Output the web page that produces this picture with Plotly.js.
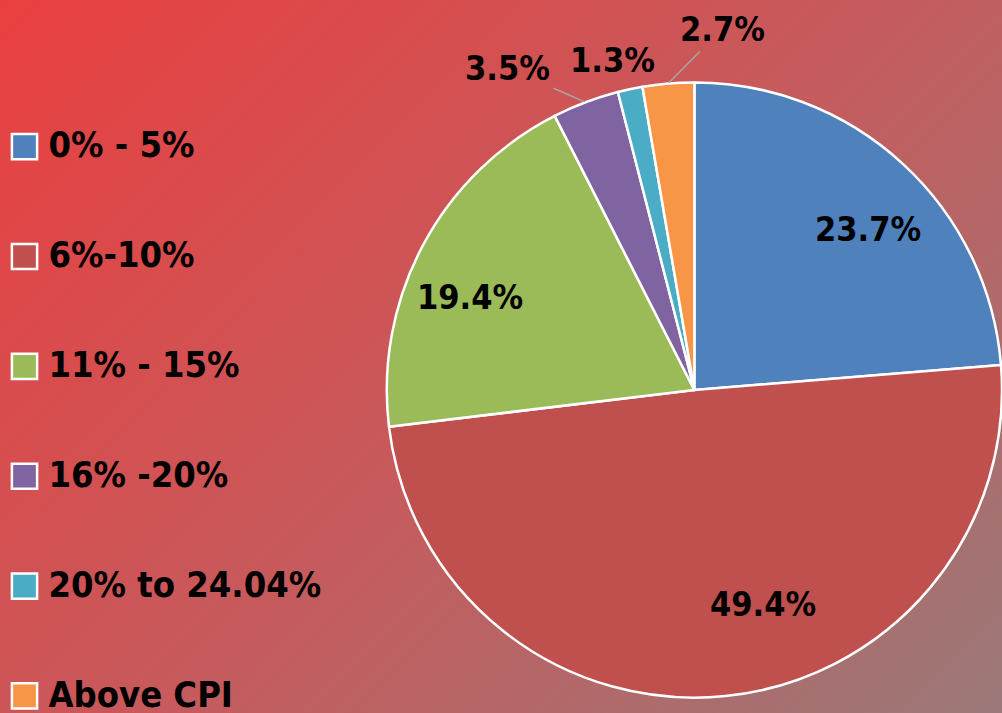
<!DOCTYPE html>
<html>
<head>
<meta charset="utf-8">
<script src="https://cdn.plot.ly/plotly-3.0.1.min.js"></script>
<style>
  html, body { margin: 0; padding: 0; }
  body { width: 1002px; height: 713px; overflow: hidden;
         background: linear-gradient(135deg, #ea3f3f 0%, #c75a5c 50%, #9b7878 100%); }
  #chart { width: 1002px; height: 713px; }
  .legendpie { transform: translate(20px, 0px) scale(2.1); vector-effect: non-scaling-stroke; }
</style>
</head>
<body>
<div id="chart"></div>
<script>
var categories = ['0% - 5%', '6%-10%', '11% - 15%', '16% -20%', '20% to 24.04%', 'Above CPI'];
var shares = [23.7, 49.4, 19.4, 3.5, 1.3, 2.7];
var sliceColors = ['#4f81bd', '#c0504d', '#9bbb59', '#8064a2', '#4bacc6', '#f79646'];

// label placement style (not data): inside/outside, pixel nudges, leader line on/off
var labelStyle = [
  { inside: true,  dx: 13,  dy: 13 },
  { inside: true,  dx: 45,  dy: -22 },
  { inside: true,  dx: -15, dy: 18 },
  { inside: false, dx: -78, dy: -34, line: true },
  { inside: false, dx: -18, dy: -29, line: false },
  { inside: false, dx: 54,  dy: -55, line: true }
];

var FONT = "'DejaVu Sans Condensed', 'DejaVu Sans', sans-serif";
var pieDomain = { x: [0.386, 1.0], y: [0.021, 0.885] };
var W = 1002, H = 713;

// legend entries: the label on the first line, blank lines below for the spacing
var legendLabels = categories.map(function (c, i) {
  var t = '<span style="font-size:36px">' + c + '</span>';
  return i < categories.length - 1 ? t + '<br>&nbsp;<br>&nbsp;' : t;
});

var trace = {
  type: 'pie',
  labels: legendLabels,
  values: shares,
  sort: false,
  direction: 'clockwise',
  rotation: 0,
  marker: { colors: sliceColors, line: { color: '#ffffff', width: 2.5 } },
  textinfo: 'none',
  domain: pieDomain,
  hoverinfo: 'label+percent'
};

// data labels, positioned from each slice's middle angle
var total = shares.reduce(function (a, b) { return a + b; }, 0);
var cxPx = (pieDomain.x[0] + pieDomain.x[1]) / 2 * W;
var cyPx = (1 - (pieDomain.y[0] + pieDomain.y[1]) / 2) * H;
var rPx = Math.min((pieDomain.x[1] - pieDomain.x[0]) * W, (pieDomain.y[1] - pieDomain.y[0]) * H) / 2;
var labelFont = { family: FONT, size: 34, color: '#000000', weight: 'bold' };
var annotations = [];
var cum = 0;
shares.forEach(function (v, i) {
  var mid = (cum + v / 2) / total * 2 * Math.PI;
  cum += v;
  var s = labelStyle[i];
  var text = v.toFixed(1) + '%';
  if (s.inside) {
    var rr = 0.77 * rPx;
    var px = cxPx + rr * Math.sin(mid) + s.dx;
    var py = cyPx - rr * Math.cos(mid) + s.dy;
    annotations.push({
      xref: 'paper', yref: 'paper', x: px / W, y: 1 - py / H,
      xanchor: 'center', yanchor: 'middle', showarrow: false,
      text: text, font: labelFont
    });
  } else {
    var ex = cxPx + rPx * Math.sin(mid);
    var ey = cyPx - rPx * Math.cos(mid);
    if (s.line) {
      annotations.push({
        xref: 'paper', yref: 'paper', x: ex / W, y: 1 - ey / H,
        showarrow: true, arrowhead: 0, arrowwidth: 1.5, arrowcolor: '#a6a6a6',
        ax: s.dx, ay: s.dy, standoff: 1, startstandoff: 2,
        text: text, font: labelFont
      });
    } else {
      annotations.push({
        xref: 'paper', yref: 'paper', x: (ex + s.dx) / W, y: 1 - (ey + s.dy) / H,
        xanchor: 'center', yanchor: 'middle', showarrow: false,
        text: text, font: labelFont
      });
    }
  }
});

var layout = {
  width: W,
  height: H,
  margin: { l: 0, r: 0, t: 0, b: 0, autoexpand: false },
  paper_bgcolor: 'rgba(0,0,0,0)',
  plot_bgcolor: 'rgba(0,0,0,0)',
  showlegend: true,
  annotations: annotations,
  legend: {
    x: 0.0045, y: 0.8284, xanchor: 'left', yanchor: 'top',
    valign: 'top',
    itemwidth: 34,
    font: { family: FONT, size: 27.4, color: '#000000', weight: 'bold' },
    bgcolor: 'rgba(0,0,0,0)',
    traceorder: 'normal'
  }
};

Plotly.newPlot('chart', [trace], layout, { displayModeBar: false, staticPlot: true });
</script>
</body>
</html>
